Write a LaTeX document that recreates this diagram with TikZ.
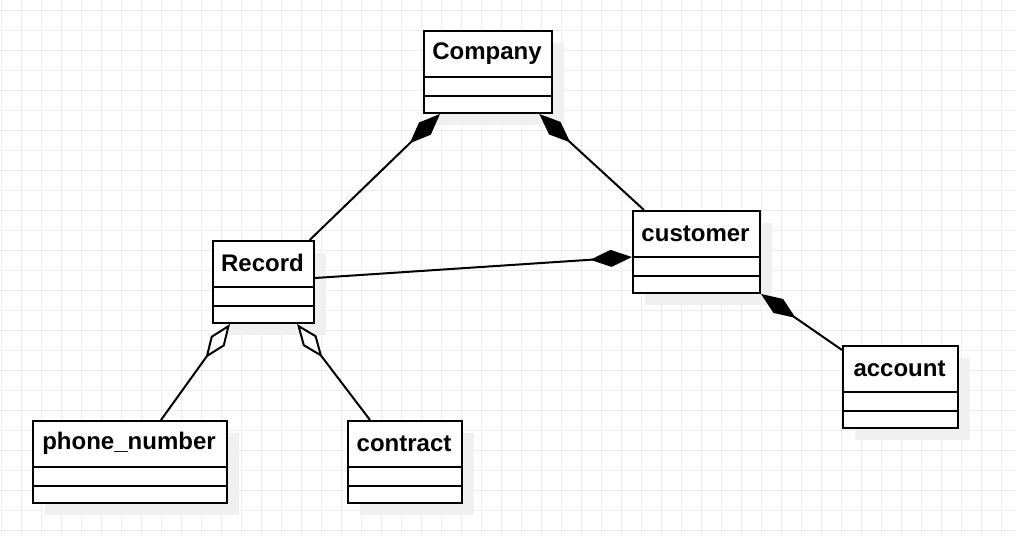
\documentclass[tikz,border=0pt]{standalone}
\usepackage{fontspec}
\setmainfont{Liberation Sans}
\usetikzlibrary{arrows.meta}
\tikzset{
  gridline/.style={draw=gray!14, line width=0.5pt},
  clsshadow/.style={fill=gray!12},
  clsbox/.style={draw, line width=1pt, fill=white, inner sep=0pt, minimum height=41pt, anchor=north west},
  clstitle/.style={font=\bfseries\fontsize{12}{14}\selectfont},
  comp/.style={line width=1pt, -{Diamond[length=21pt,width=8.5pt,fill=black]}},
  aggr/.style={line width=1pt, -{Diamond[length=21pt,width=8.5pt,open,fill=white]}}
}
\newcommand\umlclass[5]{%
  \fill[clsshadow] (#2+13,#3+13) rectangle ++(#4,82);
  \node[clsbox, minimum width=#4*0.5pt] (#1) at (#2,#3) {};
  \node[clstitle] (#1-t) at (#2+#4/2,#3+23.35) {#5};
  \draw[line width=1pt] ([yshift=-23.35pt]#1.north west) -- ([yshift=-23.35pt]#1.north east);
  \draw[line width=1pt] ([yshift=-33pt]#1.north west) -- ([yshift=-33pt]#1.north east);
}
\begin{document}
\begin{tikzpicture}[x=0.5pt, y=-0.5pt]
  \useasboundingbox (0,0) rectangle (1016,535);
  \foreach \gx in {1,21,...,1011} \draw[gridline] (\gx,0) -- (\gx,535);
  \foreach \gy in {10.5,30.5,...,530.5} \draw[gridline] (0,\gy) -- (1016,\gy);
  \umlclass{company}{423}{30}{128}{Company}
  \umlclass{record}{212}{240}{101}{Record}
  \umlclass{customer}{632}{210}{127}{customer}
  \umlclass{account}{842}{345}{115}{account}
  \umlclass{phone}{32}{420}{194}{phone\_number}
  \umlclass{contract}{347}{420}{114}{contract}
  \draw[comp] ([xshift=-2.65pt]record.north east) -- ([xshift=8.5pt]company.south west);
  \draw[comp] ([xshift=6pt]customer.north west) -- ([xshift=-6.85pt]company.south east);
  \draw[comp] ([yshift=2pt]record.east) -- ([yshift=-2.5pt]customer.west);
  \draw[comp] ([yshift=-2.5pt]account.north west) -- (customer.south east);
  \draw[aggr] ([xshift=15.5pt]phone.north) -- ([xshift=9pt]record.south west);
  \draw[aggr] ([xshift=11.5pt]contract.north west) -- ([xshift=-9pt]record.south east);
\end{tikzpicture}
\end{document}
